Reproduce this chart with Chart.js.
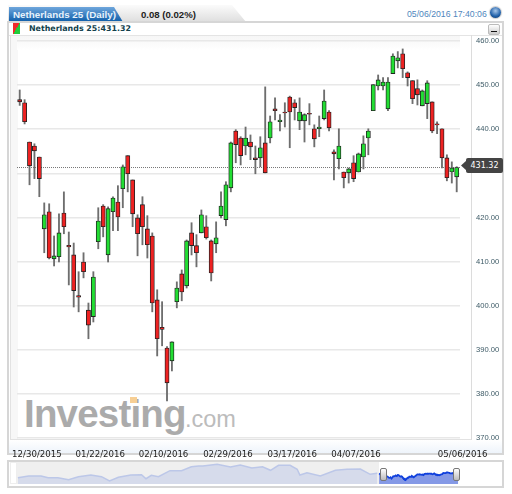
<!DOCTYPE html>
<html lang="en">
<head>
    <meta charset="UTF-8">
    <title>Netherlands 25 (Daily)</title>
    <script src="https://cdn.jsdelivr.net/npm/chart.js"></script>
    <style>
        html, body { margin: 0; padding: 0; background: #fff; width: 512px; height: 494px; overflow: hidden; font-family: "Liberation Sans", Arial, sans-serif; }
        div, span { position: absolute; white-space: nowrap; }
        canvas { position: absolute; left: 0; top: 0; }
        .tab-back { left: 8px; top: 5px; width: 238px; height: 17px; background: linear-gradient(#fbfbfb, #dedede); clip-path: polygon(0 0, 224px 0, 238px 17px, 0 17px); }
        .tab-blue { left: 9px; top: 7px; width: 114px; height: 15px; background: linear-gradient(#6ea6dc, #0d5ca8); clip-path: polygon(0 0, 105px 0, 114px 15px, 0 15px); }
        .tab-title { left: 13px; top: 8px; color: #e8f2fb; font-weight: bold; font-size: 9.8px; line-height: 13px; }
        .tab-change { left: 141px; top: 8px; color: #222; font-weight: bold; font-size: 9.6px; line-height: 13px; }
        .stamp { left: 407px; top: 8px; color: #4f86bd; font-size: 8.7px; line-height: 12px; }
        .globe { left: 490px; top: 7px; width: 11px; height: 11px; border-radius: 50%; background: radial-gradient(circle at 50% 35%, #a9c8ea, #1f5fa8 60%, #17365f); box-shadow: 0 0 1px 1px #ccc; }
        .panel { left: 7px; top: 21px; width: 493px; height: 430px; border: 2px solid #d6d6d6; background: #fff; }
        .panel-foot { left: 9px; top: 440px; width: 493px; height: 13px; background: linear-gradient(#fff, #eef4fb); }
        .plot-left { left: 10px; top: 36px; width: 7px; height: 404px; background: #f7f7f7; border-left: 1px solid #e2e2e2; }
        .plot-top { left: 17px; top: 36px; width: 443px; height: 14px; background: linear-gradient(#f6f6f6, #fff); }
        .row-line { left: 9px; top: 35px; width: 493px; height: 1px; background: #e4e4e4; }
        .plot-bottom { left: 10px; top: 439px; width: 462px; height: 1px; background: #e2e2e2; }
        .axis-line { left: 471px; top: 35px; width: 1px; height: 405px; background: #dcdcdc; }
        .icon { left: 13px; top: 23px; width: 7px; height: 11px; background: linear-gradient(120deg, #ee2a2a 50%, #22cc3a 50%); }
        .row-title { left: 29px; top: 23px; color: #123f4c; font-family: "DejaVu Sans", sans-serif; font-weight: bold; font-size: 7.9px; line-height: 12px; }
        .minimize { left: 488px; top: 24px; width: 10px; height: 9px; border: 1px solid #bbb; border-radius: 2px; background: linear-gradient(#fff, #ccc); }
        .minimize span { left: 2px; top: 6px; width: 6px; height: 1px; background: #111; }
        .brand { left: 24px; top: 392px; color: #ababab; font-weight: bold; font-size: 38.5px; line-height: 44px; letter-spacing: -0.8px; }
        .brand-com { left: 185px; top: 404px; color: #bcbcbc; font-size: 23.5px; line-height: 30px; }
        .brand-dot { left: 130px; top: 397px; width: 7px; height: 6px; background: #f7cf95; }
        .price-arrow { left: 461px; top: 160px; width: 6px; height: 11px; background: #444; clip-path: polygon(100% 0, 100% 100%, 0 50%); }
        .price-box { left: 466px; top: 158px; width: 37px; height: 15px; border-radius: 2px; background: #444; color: #fff; font-family: "DejaVu Sans", sans-serif; font-size: 8px; line-height: 15px; text-align: center; }
        .nav { left: 7px; top: 460px; width: 493px; height: 24px; border: 2px solid #d6d6d6; background: #fff; }
        .nav-bg { left: 17px; top: 462px; width: 362px; height: 22px; background: #efefef; }
        .nav-left { left: 10px; top: 462px; width: 7px; height: 22px; background: #fff; border: 1px solid #eee; box-sizing: border-box; }
        .handle { top: 468px; width: 5px; height: 11px; border: 1px solid #777; border-radius: 2px; background: linear-gradient(#fff, #bbb); }
        #navChart { left: 17px; top: 462px; }
    </style>
</head>
<body>
<div class="tab-back"></div>
<div class="tab-blue"></div>
<div class="tab-title">Netherlands 25 (Daily)</div>
<div class="tab-change">0.08 (0.02%)</div>
<div class="stamp">05/06/2016 17:40:06</div>
<div class="globe"></div>
<div class="panel"></div>
<div class="panel-foot"></div>
<div class="row-line"></div>
<div class="plot-left"></div>
<div class="plot-top"></div>
<div class="plot-bottom"></div>
<div class="axis-line"></div>
<div class="icon"></div>
<div class="row-title">Netherlands 25:431.32</div>
<div class="minimize"><span></span></div>
<div class="brand">Investing</div>
<div class="brand-com">.com</div>
<div class="brand-dot"></div>
<div class="nav"></div>
<div class="nav-bg"></div>
<div class="nav-left"></div>
<canvas id="mainChart" width="512" height="494"></canvas>
<canvas id="navChart" width="455" height="22"></canvas>
<div class="price-arrow"></div>
<div class="price-box">431.32</div>
<div class="handle" style="left:380px"></div>
<div class="handle" style="left:453px"></div>

<script>
    const opens = [446.7, 446.0, 437.1, 436.2, 433.7, 417.4, 421.3, 410.6, 411.1, 421.0,
        413.7, 411.5, 402.3, 409.9, 399.0, 397.5, 414.5, 422.6, 411.5, 421.3,
        423.5, 426.5, 434.0, 428.5, 419.9, 422.9, 417.4, 415.8, 401.3, 395.1,
        390.4, 387.5, 400.9, 407.2, 404.5, 416.5, 413.6, 416.5, 417.9, 414.7,
        414.0, 420.4, 419.5, 426.7, 439.6, 438.0, 436.2, 437.1, 433.5, 433.5,
        436.9, 438.0, 444.6, 441.7, 443.9, 447.3, 446.0, 441.9, 441.9, 443.6,
        440.1, 440.1, 442.4, 443.9, 434.9, 433.3, 430.3, 430.1, 432.4, 430.3,
        433.7, 438.0, 444.2, 449.8, 449.8, 444.6, 452.6, 455.5, 457.1, 452.8,
        451.0, 449.2, 445.3, 445.8, 446.2, 441.2, 440.1, 433.5, 430.3, 429.2];
    const closes = [446.2, 441.7, 431.7, 435.1, 428.8, 420.6, 410.8, 411.3, 416.5, 417.9,
        413.3, 403.4, 401.9, 407.7, 395.6, 406.5, 419.2, 417.9, 422.0, 424.4,
        420.1, 431.5, 429.9, 420.8, 416.3, 417.9, 413.8, 400.6, 392.5, 394.6,
        382.5, 391.8, 404.0, 403.1, 414.7, 413.6, 412.0, 420.6, 415.4, 407.4,
        415.4, 422.6, 427.4, 436.9, 436.5, 434.0, 438.0, 436.0, 433.1, 435.8,
        430.1, 441.7, 444.2, 442.1, 443.7, 443.9, 444.9, 443.9, 443.3, 443.4,
        437.8, 440.5, 446.4, 440.3, 434.4, 436.2, 429.0, 431.0, 428.8, 434.4,
        436.7, 439.6, 450.1, 451.2, 450.7, 450.7, 456.6, 456.2, 453.7, 451.7,
        446.9, 447.8, 448.7, 450.5, 439.6, 441.0, 433.5, 429.0, 431.24, 431.32];
    const highs = [448.9, 446.7, 437.1, 436.7, 433.7, 423.3, 423.1, 415.8, 420.8, 425.8,
        416.7, 414.2, 407.7, 412.0, 400.6, 407.7, 422.2, 422.9, 422.4, 424.7,
        427.2, 431.9, 434.0, 428.5, 420.6, 424.7, 420.4, 416.5, 403.6, 400.9,
        390.7, 391.8, 405.4, 408.1, 414.9, 418.8, 416.1, 421.7, 420.4, 414.9,
        419.0, 425.8, 428.1, 437.1, 439.9, 438.3, 440.5, 438.7, 436.2, 438.3,
        449.6, 443.0, 447.1, 443.3, 446.0, 447.5, 446.7, 447.1, 443.5, 445.8,
        441.0, 443.0, 448.9, 444.2, 435.3, 440.1, 430.3, 431.2, 434.0, 434.6,
        438.5, 440.1, 450.1, 452.3, 451.7, 451.7, 457.1, 457.6, 458.2, 453.0,
        451.0, 451.2, 448.9, 451.0, 446.2, 441.7, 440.1, 434.2, 432.6, 431.5];
    const lows = [445.4, 441.2, 427.4, 428.8, 424.7, 412.0, 410.6, 409.0, 409.9, 416.3,
        404.7, 399.7, 398.6, 406.3, 392.5, 396.3, 412.9, 415.6, 409.9, 417.0,
        417.0, 422.2, 425.8, 417.9, 411.3, 413.8, 410.8, 398.6, 388.6, 390.9,
        378.4, 385.2, 399.5, 401.1, 404.0, 411.5, 408.8, 416.5, 415.1, 405.6,
        412.0, 419.9, 418.1, 425.8, 432.4, 431.9, 434.2, 433.1, 429.9, 431.5,
        430.1, 436.9, 442.1, 439.6, 440.5, 435.8, 442.1, 439.9, 437.1, 441.0,
        436.0, 438.3, 442.1, 439.6, 428.5, 431.0, 426.7, 427.8, 428.1, 430.3,
        431.0, 434.2, 444.2, 448.9, 448.9, 444.2, 452.6, 453.9, 451.7, 449.8,
        445.8, 445.5, 445.3, 442.4, 439.2, 439.0, 431.2, 428.3, 427.8, 425.8];

    const yTicks = [370, 380, 390, 400, 410, 420, 430, 440, 450, 460];
    const dateLabels = ['12/30/2015', '01/22/2016', '02/10/2016', '02/29/2016', '03/17/2016', '04/07/2016', '05/06/2016'];
    const dateTicks = [3.5, 16.4, 29.3, 42.4, 55.5, 68.5, 90.2];
    const lastPrice = 431.32;

    // navigator history, days before the selected range
    const navDays = [-406, -394, -380, -372, -361, -349, -338, -324, -312, -303, -293, -279, -267, -262, -256, -248, -235, -222, -211, -203,
        -198, -182, -167, -156, -143, -131, -122, -113, -100, -92, -89, -81, -66, -49, -36, -21, -10, -2];
    const navValues = [404, 421, 421, 404, 404, 384, 414, 431, 414, 371, 408, 431, 434, 394, 428, 414, 474, 474, 514, 521,
        521, 538, 511, 531, 501, 514, 478, 528, 528, 488, 431, 454, 421, 478, 488, 491, 438, 448];

    const xMin = -0.55, xMax = 89.67;
    const candleFill = opens.map((o, i) => closes[i] >= o ? '#22dd33' : '#ee2222');

    new Chart(document.getElementById('mainChart'), {
        type: 'bar',
        data: {
            labels: opens.map((o, i) => i),
            datasets: [
                {
                    type: 'line',
                    data: [{ x: xMin, y: lastPrice }, { x: xMax, y: lastPrice }],
                    borderColor: '#777',
                    borderWidth: 1,
                    borderDash: [1, 1],
                    pointRadius: 0,
                    order: 3
                },
                {
                    data: lows.map((l, i) => [l, highs[i]]),
                    backgroundColor: '#6e6e6e',
                    barThickness: 1.2,
                    order: 2
                },
                {
                    data: opens.map((o, i) => [o, closes[i]]),
                    backgroundColor: candleFill,
                    borderColor: '#222',
                    borderWidth: 0.9,
                    borderSkipped: false,
                    barThickness: 4.2,
                    order: 1
                }
            ]
        },
        options: {
            responsive: false,
            animation: false,
            layout: { padding: { left: 17, top: 41, right: 0, bottom: 0 } },
            plugins: { legend: { display: false }, tooltip: { enabled: false } },
            scales: {
                x: {
                    type: 'linear',
                    offset: false,
                    min: xMin,
                    max: xMax,
                    grid: { display: false },
                    border: { display: false },
                    afterFit: s => { s.height = 56; },
                    afterBuildTicks: s => { s.ticks = dateTicks.map(v => ({ value: v })); },
                    ticks: {
                        autoSkip: false,
                        maxRotation: 0,
                        minRotation: 0,
                        padding: 4,
                        color: '#222',
                        font: { family: 'DejaVu Sans', size: 8.6 },
                        callback: v => dateLabels[dateTicks.indexOf(v)]
                    }
                },
                y: {
                    position: 'right',
                    min: 370,
                    max: 460,
                    grid: { color: '#e8e8e8', lineWidth: 1.5, drawTicks: false },
                    border: { display: false },
                    afterFit: s => { s.width = 52; },
                    afterBuildTicks: s => { s.ticks = yTicks.map(v => ({ value: v })); },
                    ticks: {
                        padding: 16,
                        color: '#3d5a66',
                        font: { family: 'Liberation Sans', size: 7.6 },
                        // the price flag sits over the 430 label
                        callback: v => v === 430 ? '' : v.toFixed(2)
                    }
                }
            },
            datasets: { bar: { grouped: false } }
        }
    });

    new Chart(document.getElementById('navChart'), {
        type: 'line',
        data: {
            datasets: [
                {
                    data: navDays.map((d, i) => ({ x: d, y: navValues[i] })),
                    borderColor: '#bcc7e8',
                    borderWidth: 1.5,
                    backgroundColor: '#d6dbeb',
                    fill: 'start',
                    pointRadius: 0
                },
                {
                    data: closes.map((c, i) => ({ x: i, y: c })),
                    borderColor: '#1040dd',
                    borderWidth: 1.8,
                    backgroundColor: '#8599e6',
                    fill: 'start',
                    pointRadius: 0
                }
            ]
        },
        options: {
            responsive: false,
            animation: false,
            plugins: { legend: { display: false }, tooltip: { enabled: false } },
            scales: {
                x: { type: 'linear', display: false, min: -407, max: 104.5 },
                y: { display: false, min: 341, max: 561 }
            }
        }
    });
</script>
</body>
</html>
